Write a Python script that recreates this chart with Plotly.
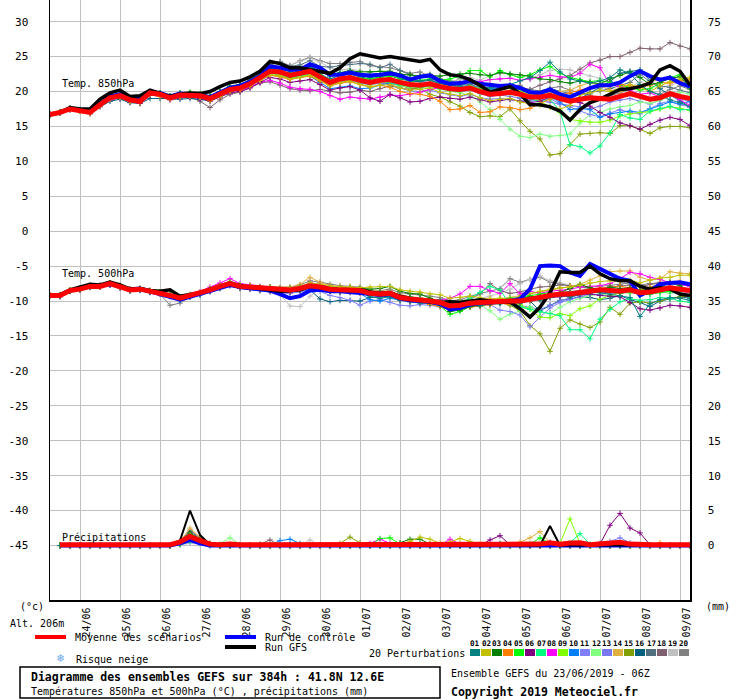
import plotly.graph_objects as go

MONO = 'DejaVu Sans Mono'

# time axis: 6-hourly steps over 384h (23/06 06Z -> 09/07 06Z)
hours = list(range(0, 385, 6))
rain_hours = hours[1:]
day_lines = [18, 42, 66, 90, 114, 138, 162, 186, 210, 234, 258, 282, 306, 330, 354, 378]
day_labels = ['24/06', '25/06', '26/06', '27/06', '28/06', '29/06', '30/06', '01/07',
              '02/07', '03/07', '04/07', '05/07', '06/07', '07/07', '08/07', '09/07']
left_ticks = [-45, -40, -35, -30, -25, -20, -15, -10, -5, 0, 5, 10, 15, 20, 25, 30]
right_ticks = [0, 5, 10, 15, 20, 25, 30, 35, 40, 45, 50, 55, 60, 65, 70, 75]
thick_ticks = [-40, -30, -20, -10, 10, 20, 30]
y_range = [-52.8, 33.1]
rain_offset = 45

member_colors = ['#008080', '#c0c000', '#008000', '#ff8000', '#00ff00', '#800080', '#00ff80',
                 '#ff00ff', '#80ff00', '#0080ff', '#8080ff', '#80ff80', '#7878f0', '#e0b040',
                 '#80a000', '#006080', '#507080', '#806070', '#c0c0c0', '#808080']

# ---------------- ensemble mean / control / GFS ----------------
mean_t850 = [
    16.7, 17.0, 17.5, 17.3, 17.0, 18.1, 19.1, 19.4, 18.8, 18.6,
    19.8, 19.6, 19.1, 19.5, 19.5, 19.4, 19.0, 19.6, 20.3, 20.5,
    21.1, 22.0, 22.9, 22.8, 22.3, 22.6, 22.9, 22.1, 21.3, 21.8,
    22.0, 21.6, 21.3, 21.6, 21.7, 21.3, 21.0, 20.9, 21.1, 20.7,
    20.4, 20.3, 20.5, 20.0, 19.6, 19.7, 19.9, 19.6, 19.2, 19.2,
    19.5, 19.0, 18.6, 18.9, 19.1, 19.0, 18.9, 19.3, 19.7, 19.3,
    18.9, 19.1, 19.7, 19.3, 19.0]
ctrl_t850 = [
    16.7, 17.0, 17.6, 17.4, 17.1, 18.2, 19.3, 19.6, 19.0, 18.9,
    19.9, 19.8, 19.3, 19.7, 19.6, 19.5, 19.2, 19.8, 20.5, 20.8,
    21.4, 22.2, 23.6, 23.4, 23.1, 23.1, 23.9, 23.4, 22.4, 22.4,
    22.7, 22.4, 22.3, 22.4, 22.6, 22.3, 21.7, 22.1, 22.3, 21.5,
    21.1, 21.2, 21.5, 21.1, 21.0, 20.8, 20.9, 20.5, 19.9, 19.8,
    20.3, 19.6, 19.2, 19.9, 20.5, 20.9, 20.9, 21.3, 22.2, 22.9,
    22.2, 21.7, 22.0, 21.2, 20.7]
gfs_t850 = [
    16.7, 17.0, 17.7, 17.5, 17.5, 18.9, 19.8, 20.2, 19.3, 19.4,
    20.2, 19.8, 19.3, 19.6, 19.8, 19.7, 20.0, 20.7, 21.3, 21.5,
    22.1, 22.9, 24.3, 24.0, 23.4, 23.4, 23.1, 22.8, 22.6, 23.4,
    24.7, 25.4, 25.1, 24.8, 25.0, 24.8, 24.6, 24.3, 24.6, 23.1,
    22.4, 22.2, 21.7, 20.9, 19.9, 20.3, 20.7, 19.7, 18.1, 18.1,
    17.8, 17.2, 15.9, 17.4, 18.4, 18.9, 19.6, 20.3, 20.4, 20.7,
    21.2, 23.1, 23.7, 22.9, 20.9]

mean_t500 = [
    -9.2, -9.2, -8.5, -8.3, -7.9, -7.9, -7.5, -7.9, -8.4, -8.3,
    -8.6, -8.8, -9.2, -9.6, -9.2, -8.9, -8.4, -7.9, -7.5, -7.9,
    -8.0, -8.2, -8.2, -8.4, -8.4, -8.2, -7.8, -8.0, -8.3, -8.4,
    -8.4, -8.5, -8.9, -9.0, -8.9, -9.5, -9.7, -9.8, -10.0, -10.2,
    -10.7, -10.6, -10.3, -10.2, -10.1, -10.0, -10.0, -10.0, -9.8, -9.5,
    -9.2, -9.0, -9.0, -8.8, -8.5, -8.4, -8.5, -8.6, -8.4, -8.8,
    -8.7, -8.4, -8.1, -8.3, -8.5]
ctrl_t500 = [
    -9.2, -9.1, -8.5, -8.2, -7.9, -7.8, -7.6, -7.9, -8.3, -8.2,
    -8.6, -8.9, -9.4, -9.8, -9.4, -9.0, -8.6, -8.1, -7.7, -8.0,
    -8.2, -8.3, -8.5, -9.0, -9.6, -9.3, -8.5, -8.4, -8.6, -8.6,
    -8.7, -8.8, -9.0, -9.1, -9.0, -9.6, -9.9, -10.0, -10.1, -10.4,
    -11.2, -11.0, -10.5, -10.3, -10.2, -10.0, -10.0, -9.7, -8.3, -5.0,
    -4.9, -5.0, -5.9, -6.4, -4.7, -5.4, -6.1, -6.8, -7.1, -9.2,
    -8.5, -7.6, -7.4, -7.3, -7.6]
gfs_t500 = [
    -9.2, -9.1, -8.4, -8.0, -7.6, -7.7, -7.3, -7.7, -8.3, -8.2,
    -8.5, -8.6, -8.4, -9.3, -9.0, -8.8, -8.3, -7.8, -7.4, -7.8,
    -8.0, -8.1, -8.3, -8.6, -8.5, -8.4, -7.9, -8.1, -8.3, -8.4,
    -8.5, -8.4, -8.7, -8.9, -8.8, -9.3, -9.6, -9.9, -10.1, -10.2,
    -10.1, -10.2, -10.0, -9.8, -10.0, -10.2, -10.1, -11.1, -12.3, -10.9,
    -8.8, -5.8, -5.9, -5.9, -5.0, -6.1, -6.8, -7.1, -7.1, -7.9,
    -8.3, -8.1, -8.3, -9.0, -9.2]

mean_rr = [
    0.1, 0.1, 0.1, 0.1, 0.1, 0.1, 0.1, 0.1,
    0.1, 0.1, 0.1, 0.1, 0.5, 1.3, 0.7, 0.2,
    0.1, 0.2, 0.1, 0.1, 0.1, 0.1, 0.1, 0.1,
    0.1, 0.1, 0.1, 0.1, 0.1, 0.2, 0.1, 0.1,
    0.2, 0.2, 0.1, 0.1, 0.2, 0.1, 0.1, 0.2,
    0.1, 0.1, 0.1, 0.1, 0.2, 0.1, 0.1, 0.1,
    0.2, 0.4, 0.2, 0.35, 0.4, 0.1, 0.2, 0.4,
    0.45, 0.2, 0.1, 0.1, 0.1, 0.1, 0.1, 0.1]
ctrl_rr = [
    0, 0, 0, 0, 0, 0, 0, 0,
    0, 0, 0, 0, 0.3, 0.8, 0.3, 0,
    0, 0, 0, 0, 0, 0, 0, 0,
    0, 0, 0, 0, 0, 0, 0, 0,
    0, 0, 0, 0, 0, 0, 0, 0,
    0, 0, 0, 0, 0, 0, 0, 0,
    0, 0, 0, 0, 0, 0, 0, 0,
    0, 0, 0, 0, 0, 0, 0, 0]
gfs_rr = [
    0, 0, 0, 0, 0, 0, 0, 0,
    0, 0, 0, 0, 0.7, 5.0, 1.5, 0.1,
    0, 0, 0, 0, 0, 0, 0, 0,
    0, 0, 0, 0, 0, 0, 0, 0,
    0, 0, 0, 0, 0, 0, 0, 0,
    0, 0, 0, 0, 0, 0, 0, 0,
    0, 2.8, 0, 0, 0, 0, 0, 0,
    0, 0, 0, 0, 0, 0, 0, 0]

# ---------------- 20 perturbations: T850 ----------------
p01_t850 = [
    16.7, 17.0, 17.6, 17.4, 17.1, 18.3, 19.3, 19.6, 18.9, 18.8,
    19.9, 19.8, 19.3, 19.8, 19.7, 19.6, 19.3, 20.0, 20.8, 21.0,
    21.6, 22.5, 23.3, 23.2, 22.9, 23.2, 23.6, 22.9, 22.2, 22.6,
    22.9, 22.4, 22.0, 22.3, 22.6, 22.1, 21.8, 21.5, 21.7, 21.2,
    20.9, 20.8, 21.3, 20.8, 20.5, 20.7, 21.0, 21.5, 22.0, 23.0,
    24.2, 22.8, 21.8, 21.5, 21.2, 21.5, 22.0, 23.1, 22.6, 21.0,
    20.0, 19.5, 18.8, 18.4, 17.8]
p02_t850 = [
    16.7, 17.0, 17.5, 17.2, 16.9, 18.0, 19.0, 19.2, 18.6, 18.5,
    19.6, 19.4, 19.0, 19.3, 19.4, 19.2, 18.7, 19.3, 20.0, 20.3,
    20.8, 21.6, 22.4, 22.2, 21.8, 22.0, 22.3, 21.7, 20.9, 21.3,
    21.5, 21.0, 20.6, 20.9, 21.0, 20.5, 20.2, 20.3, 20.5, 19.9,
    19.6, 19.4, 19.7, 19.1, 18.7, 18.9, 19.0, 18.5, 18.2, 18.0,
    17.8, 17.5, 18.0, 19.5, 19.8, 20.2, 20.0, 20.5, 21.0, 20.6,
    20.0, 20.8, 21.4, 21.8, 22.0]
p03_t850 = [
    16.7, 17.1, 17.6, 17.4, 17.1, 18.2, 19.2, 19.5, 19.0, 18.8,
    19.9, 19.8, 19.4, 19.7, 19.8, 19.6, 19.3, 20.0, 20.7, 21.0,
    21.5, 22.4, 23.2, 23.0, 22.6, 23.0, 23.4, 22.8, 22.3, 22.7,
    23.0, 22.8, 22.8, 22.9, 22.9, 22.5, 22.4, 22.2, 22.3, 22.2,
    22.4, 22.5, 22.6, 22.4, 22.3, 22.7, 22.5, 22.4, 22.2, 21.8,
    21.7, 21.4, 21.2, 21.5, 21.3, 21.1, 21.8, 22.3, 22.8, 22.0,
    21.0, 21.3, 21.9, 22.1, 20.5]
p04_t850 = [
    16.7, 16.9, 17.4, 17.2, 16.9, 17.9, 18.9, 19.2, 18.6, 18.4,
    19.6, 19.3, 18.9, 19.2, 19.3, 19.2, 18.8, 19.4, 20.1, 20.2,
    20.8, 21.6, 22.3, 22.1, 21.7, 22.0, 22.2, 21.5, 20.8, 21.2,
    21.4, 21.0, 20.7, 20.9, 20.6, 20.0, 19.7, 19.6, 19.3, 18.6,
    17.4, 17.5, 18.0, 17.0, 17.1, 17.8, 17.7, 17.4, 17.6, 18.3,
    18.9, 19.5, 19.8, 20.2, 20.6, 21.0, 20.9, 21.0, 20.8, 20.6,
    20.9, 21.3, 21.2, 21.5, 21.7]
p05_t850 = [
    16.7, 17.0, 17.5, 17.3, 17.0, 18.1, 19.0, 19.4, 18.9, 18.7,
    19.9, 19.7, 19.2, 19.8, 19.9, 19.7, 19.4, 19.9, 20.6, 20.8,
    21.3, 22.2, 23.0, 22.9, 22.5, 22.8, 23.0, 22.4, 21.6, 22.0,
    22.2, 21.9, 21.8, 22.0, 22.2, 21.9, 21.5, 21.6, 21.8, 21.6,
    21.8, 22.2, 23.0, 23.0, 22.1, 23.0, 22.4, 22.0, 22.4, 23.1,
    23.6, 22.6, 22.0, 21.7, 21.4, 21.6, 21.3, 21.0, 20.6, 20.2,
    20.4, 21.2, 22.0, 22.4, 20.6]
p06_t850 = [
    16.7, 16.9, 17.4, 17.2, 16.8, 17.9, 18.8, 19.1, 18.5, 18.3,
    19.5, 19.3, 18.8, 19.1, 19.2, 19.0, 18.6, 19.2, 19.8, 20.0,
    20.5, 21.3, 22.0, 21.8, 21.3, 21.5, 21.7, 21.0, 20.2, 20.5,
    20.7, 20.2, 19.1, 18.6, 19.6, 19.1, 18.5, 18.6, 19.0, 19.2,
    19.0, 18.9, 19.2, 18.8, 18.5, 18.7, 18.9, 18.6, 18.4, 18.6,
    19.2, 19.0, 18.7, 18.4, 17.9, 17.0, 16.3, 15.5, 15.1, 14.6,
    15.3, 15.9, 16.3, 16.0, 15.1]
p07_t850 = [
    16.7, 17.0, 17.5, 17.3, 17.0, 18.1, 19.1, 19.3, 18.8, 18.5,
    19.7, 19.6, 19.1, 19.4, 19.4, 19.3, 19.1, 19.7, 20.4, 20.6,
    21.1, 21.9, 22.7, 22.6, 22.0, 22.3, 22.6, 21.8, 21.0, 21.6,
    21.8, 21.4, 21.1, 21.4, 21.3, 20.9, 20.7, 20.6, 20.8, 20.4,
    20.2, 20.0, 20.3, 19.8, 19.5, 19.8, 19.8, 19.5, 19.0, 18.5,
    18.9, 17.2, 12.4, 12.1, 11.2, 12.2, 14.1, 16.7, 16.2, 16.0,
    17.2, 17.6, 17.9, 17.4, 17.4]
p08_t850 = [
    16.7, 17.0, 17.5, 17.3, 17.0, 18.0, 19.0, 19.3, 18.7, 18.5,
    19.7, 19.5, 19.0, 19.3, 19.3, 19.1, 18.9, 19.4, 20.0, 20.2,
    20.6, 21.3, 21.6, 21.2, 20.6, 20.4, 20.3, 20.0, 19.4, 18.9,
    19.2, 19.0, 18.9, 19.2, 19.5, 19.4, 19.6, 19.9, 20.3, 20.5,
    20.8, 21.1, 21.6, 21.4, 21.7, 21.8, 21.9, 21.6, 21.8, 22.0,
    22.3, 22.1, 22.0, 22.6, 23.9, 23.4, 21.0, 20.7, 20.2, 19.6,
    19.8, 19.2, 19.6, 18.8, 18.0]
p09_t850 = [
    16.7, 17.0, 17.6, 17.3, 17.0, 18.2, 19.2, 19.5, 18.9, 18.7,
    19.8, 19.7, 19.2, 19.6, 19.6, 19.5, 19.2, 19.8, 20.4, 20.6,
    21.2, 22.0, 22.6, 22.4, 21.9, 22.2, 22.4, 21.7, 21.0, 21.5,
    21.7, 21.3, 21.1, 21.5, 21.6, 21.2, 20.9, 20.8, 21.1, 20.8,
    20.6, 20.5, 20.8, 20.4, 20.1, 20.3, 20.5, 20.1, 19.5, 18.6,
    17.8, 17.0, 16.0, 15.8, 15.6, 15.6, 15.9, 16.5, 16.8, 17.0,
    17.1, 17.5, 17.8, 17.6, 17.3]
p10_t850 = [
    16.7, 17.0, 17.5, 17.3, 17.0, 18.0, 19.0, 19.3, 18.7, 18.6,
    19.8, 19.6, 19.1, 19.5, 19.6, 19.5, 19.1, 19.7, 20.4, 20.7,
    21.3, 22.2, 22.9, 22.6, 22.0, 22.1, 22.2, 21.3, 20.4, 20.6,
    20.8, 20.4, 20.5, 20.9, 21.2, 21.0, 20.8, 20.8, 21.2, 20.8,
    20.6, 20.6, 20.9, 20.5, 20.3, 20.6, 20.8, 20.2, 19.7, 19.4,
    19.2, 18.5, 17.4, 17.6, 17.4, 16.3, 16.8, 17.0, 17.2, 17.0,
    17.5, 18.0, 18.5, 18.2, 18.6]
p11_t850 = [
    16.7, 17.0, 17.4, 17.2, 16.9, 18.0, 18.9, 19.2, 18.7, 18.5,
    19.6, 19.5, 19.0, 19.3, 19.3, 19.2, 18.9, 19.4, 20.0, 20.2,
    20.7, 21.5, 22.3, 22.3, 21.9, 22.2, 22.5, 21.8, 21.0, 21.4,
    21.6, 21.2, 21.0, 21.2, 21.0, 20.5, 20.1, 20.0, 20.2, 19.8,
    19.5, 19.3, 19.6, 19.1, 18.9, 19.0, 18.8, 18.7, 18.6, 18.8,
    19.0, 18.2, 17.8, 17.2, 16.7, 16.4, 16.9, 17.4, 17.0, 16.8,
    17.5, 18.3, 18.6, 18.1, 17.8]
p12_t850 = [
    16.7, 17.0, 17.5, 17.3, 17.0, 18.1, 19.1, 19.4, 18.8, 18.6,
    19.8, 19.5, 19.0, 19.4, 19.5, 19.3, 18.9, 19.5, 20.2, 20.4,
    21.0, 21.8, 22.5, 22.4, 21.8, 22.1, 22.3, 21.6, 20.8, 21.2,
    21.4, 21.1, 20.9, 21.2, 21.3, 20.8, 20.6, 20.5, 20.7, 20.3,
    20.0, 19.8, 19.5, 18.5, 17.4, 16.0, 14.6, 13.6, 13.4, 13.9,
    13.6, 13.7, 13.9, 15.5, 16.7, 17.0, 17.5, 17.8, 18.0, 18.5,
    18.3, 18.7, 19.4, 19.9, 19.6]
p13_t850 = [
    16.7, 17.0, 17.5, 17.3, 17.0, 18.1, 19.0, 19.3, 18.8, 18.6,
    19.7, 19.6, 19.1, 19.5, 19.4, 19.3, 19.0, 19.5, 20.2, 20.4,
    20.9, 21.8, 22.6, 22.5, 22.1, 22.4, 22.7, 21.9, 21.1, 21.6,
    21.8, 21.4, 21.1, 21.3, 21.4, 21.0, 20.7, 20.6, 20.8, 20.4,
    20.1, 20.0, 20.2, 19.7, 19.3, 19.5, 19.3, 19.0, 18.8, 18.6,
    18.5, 18.2, 18.0, 17.8, 17.5, 17.9, 18.5, 18.8, 19.0, 18.6,
    18.2, 18.8, 19.4, 19.0, 18.5]
p14_t850 = [
    16.7, 17.0, 17.5, 17.3, 17.0, 18.1, 19.1, 19.4, 18.8, 18.7,
    19.8, 19.6, 19.2, 19.6, 19.6, 19.5, 19.1, 19.7, 20.3, 20.6,
    21.2, 22.1, 22.9, 22.8, 22.3, 22.6, 22.9, 22.2, 21.4, 21.9,
    22.1, 21.7, 21.4, 21.7, 21.9, 21.5, 21.2, 21.1, 21.3, 21.0,
    20.7, 20.6, 20.8, 20.4, 20.0, 20.2, 20.5, 20.2, 19.8, 19.9,
    20.1, 20.0, 20.2, 20.8, 21.3, 20.8, 20.2, 20.0, 20.5, 21.0,
    21.4, 21.7, 21.9, 21.6, 21.9]
p15_t850 = [
    16.7, 17.0, 17.5, 17.3, 17.0, 18.1, 19.0, 19.3, 18.7, 18.5,
    19.7, 19.5, 19.0, 19.4, 19.4, 19.3, 18.9, 19.5, 20.2, 20.4,
    21.0, 21.9, 22.7, 22.6, 22.1, 22.4, 22.7, 21.9, 21.1, 21.6,
    21.8, 21.4, 21.1, 21.3, 21.2, 20.8, 20.5, 20.4, 19.6, 19.2,
    18.5, 17.9, 17.0, 16.4, 16.5, 16.4, 17.5, 15.8, 14.3, 13.2,
    10.9, 11.1, 12.4, 13.9, 14.0, 14.1, 14.0, 15.1, 15.1, 14.6,
    14.0, 14.8, 15.0, 15.0, 14.8]
p16_t850 = [
    16.7, 16.9, 17.4, 17.2, 16.9, 17.8, 18.6, 18.9, 18.4, 18.3,
    19.0, 19.0, 18.9, 18.9, 19.0, 18.9, 18.7, 19.3, 20.0, 20.3,
    20.9, 21.7, 22.6, 22.7, 22.4, 22.8, 23.2, 22.5, 21.8, 22.3,
    22.5, 22.1, 21.8, 22.1, 22.3, 21.8, 21.5, 21.4, 21.6, 21.1,
    20.8, 20.6, 20.9, 20.4, 20.1, 20.5, 20.8, 20.0, 19.4, 19.6,
    20.0, 19.4, 18.8, 19.0, 19.8, 20.5, 21.4, 22.6, 22.9, 23.1,
    21.6, 20.4, 19.5, 18.6, 17.8]
p17_t850 = [
    16.7, 17.0, 17.6, 17.4, 17.1, 18.2, 19.2, 19.5, 18.9, 18.7,
    19.8, 19.7, 19.3, 19.6, 19.7, 19.6, 19.2, 19.9, 20.7, 21.0,
    21.7, 22.6, 23.8, 24.2, 23.6, 23.8, 24.4, 23.6, 23.5, 23.7,
    23.9, 24.0, 23.9, 23.4, 23.9, 23.0, 22.4, 22.2, 22.4, 21.8,
    21.5, 21.2, 21.3, 20.8, 20.3, 20.5, 20.7, 20.4, 20.2, 20.1,
    20.4, 20.0, 19.7, 19.6, 19.8, 20.1, 20.4, 20.9, 21.3, 22.5,
    21.4, 20.8, 20.6, 20.2, 19.8]
p18_t850 = [
    16.7, 17.0, 17.5, 17.3, 17.0, 18.0, 19.0, 19.2, 18.6, 18.4,
    19.5, 19.4, 18.9, 19.2, 19.2, 18.6, 17.7, 18.8, 19.6, 19.9,
    20.6, 21.2, 21.4, 20.9, 20.4, 20.2, 20.1, 20.3, 20.0, 19.8,
    19.9, 20.2, 20.0, 20.4, 20.8, 20.5, 20.3, 20.6, 21.0, 20.8,
    20.5, 20.9, 21.0, 20.6, 20.2, 20.5, 20.8, 20.6, 20.3, 20.9,
    21.4, 21.8, 22.3, 23.2, 24.1, 24.5, 25.0, 25.0, 25.6, 26.2,
    26.1, 26.1, 27.0, 26.5, 26.1]
p19_t850 = [
    16.7, 17.0, 17.5, 17.3, 17.0, 18.1, 19.1, 19.4, 18.9, 18.7,
    19.9, 19.7, 19.3, 19.7, 19.8, 19.6, 19.3, 19.9, 20.6, 20.9,
    21.4, 22.4, 23.3, 23.6, 23.8, 24.3, 24.8, 24.2, 23.4, 23.1,
    23.2, 23.0, 22.7, 22.9, 22.6, 22.2, 22.0, 22.3, 22.6, 21.8,
    21.4, 21.7, 22.0, 21.6, 22.3, 22.6, 22.5, 22.0, 21.8, 22.4,
    23.0, 23.2, 23.1, 22.6, 22.2, 21.9, 20.5, 20.2, 20.6, 21.4,
    20.8, 20.5, 20.9, 21.3, 21.2]
p20_t850 = [
    16.7, 17.0, 17.5, 17.3, 17.0, 18.1, 19.1, 19.5, 18.9, 18.7,
    19.9, 19.8, 19.3, 19.7, 19.7, 19.6, 19.2, 19.8, 20.6, 20.9,
    21.6, 22.8, 24.0, 24.3, 23.7, 24.4, 24.9, 24.4, 24.0, 24.0,
    24.2, 24.3, 23.7, 23.5, 23.4, 23.0, 22.6, 22.8, 22.2, 21.6,
    21.3, 21.8, 21.6, 21.2, 21.0, 20.6, 20.5, 20.9, 20.0, 19.6,
    20.5, 20.7, 20.2, 19.8, 19.5, 19.0, 19.4, 19.8, 20.4, 20.8,
    20.0, 19.6, 20.3, 20.8, 20.3]

# ---------------- 20 perturbations: T500 ----------------
p01_t500 = [
    -9.2, -9.3, -8.6, -8.3, -8.0, -7.9, -7.6, -8.0, -8.5, -8.4,
    -8.7, -8.9, -9.3, -9.8, -9.3, -9.0, -8.5, -8.0, -7.6, -8.0,
    -8.1, -8.3, -8.4, -8.6, -8.5, -8.4, -8.0, -8.3, -8.6, -8.7,
    -8.6, -8.7, -9.4, -9.6, -9.4, -9.9, -10.1, -10.3, -10.3, -10.6,
    -11.0, -10.9, -10.6, -10.7, -10.4, -10.4, -10.1, -10.3, -9.6, -9.9,
    -9.5, -9.2, -9.4, -9.0, -8.7, -8.8, -9.0, -9.3, -9.5, -12.2,
    -10.4, -9.8, -9.5, -9.6, -9.9]
p02_t500 = [
    -9.2, -9.1, -8.4, -8.2, -7.8, -7.8, -7.4, -7.8, -8.3, -8.2,
    -8.5, -8.7, -9.0, -9.5, -9.1, -8.8, -8.2, -7.7, -7.3, -7.7,
    -7.8, -8.0, -8.0, -8.1, -8.1, -7.9, -7.4, -7.6, -7.9, -8.0,
    -8.0, -8.1, -8.0, -7.9, -7.9, -8.4, -8.6, -8.7, -9.0, -9.1,
    -9.6, -9.5, -9.3, -9.5, -9.8, -9.6, -9.9, -9.4, -8.9, -8.6,
    -8.3, -8.1, -8.0, -7.7, -7.4, -7.2, -7.1, -7.2, -7.0, -7.4,
    -7.0, -6.7, -6.6, -6.3, -6.3]
p03_t500 = [
    -9.2, -9.1, -8.4, -8.3, -7.8, -7.8, -7.4, -7.8, -8.3, -8.3,
    -8.5, -8.7, -9.1, -9.5, -9.2, -8.9, -8.3, -7.8, -7.3, -7.8,
    -7.9, -8.0, -8.0, -8.2, -8.2, -8.0, -7.6, -7.8, -8.0, -8.1,
    -8.1, -8.2, -8.3, -8.2, -7.9, -8.6, -8.9, -9.0, -9.6, -10.0,
    -11.5, -11.3, -10.8, -10.6, -10.3, -10.1, -9.9, -9.6, -9.4, -9.3,
    -9.0, -8.8, -8.2, -7.6, -8.1, -8.4, -8.0, -8.2, -8.1, -8.5,
    -8.3, -8.0, -7.4, -7.8, -8.6]
p04_t500 = [
    -9.2, -9.2, -8.5, -8.4, -8.0, -8.0, -7.6, -8.0, -8.5, -8.3,
    -8.6, -8.8, -9.2, -9.6, -9.3, -9.0, -8.5, -8.1, -7.7, -8.1,
    -8.2, -8.4, -8.6, -8.7, -8.6, -8.4, -8.0, -8.2, -8.6, -8.7,
    -8.7, -8.9, -9.1, -9.2, -9.2, -9.8, -10.1, -10.2, -10.5, -10.8,
    -11.3, -11.1, -10.9, -10.8, -10.6, -10.3, -10.5, -10.2, -9.9, -9.7,
    -9.4, -9.1, -8.9, -8.6, -8.3, -8.2, -8.0, -7.9, -8.1, -8.4,
    -8.0, -7.6, -7.5, -7.2, -7.6]
p05_t500 = [
    -9.2, -9.2, -8.5, -8.3, -7.9, -7.8, -7.5, -7.8, -8.4, -8.2,
    -8.6, -8.8, -9.2, -9.7, -9.2, -8.9, -8.4, -7.9, -7.4, -7.8,
    -8.0, -8.2, -8.3, -8.4, -8.4, -8.1, -7.7, -7.9, -8.2, -8.3,
    -8.3, -8.4, -8.8, -9.0, -8.9, -9.6, -9.9, -10.0, -10.3, -10.7,
    -11.9, -11.5, -10.8, -10.5, -10.1, -9.8, -9.6, -9.5, -9.2, -9.0,
    -8.8, -9.0, -9.2, -8.9, -8.6, -8.5, -8.7, -8.9, -8.6, -8.9,
    -9.0, -8.8, -8.6, -8.9, -9.2]
p06_t500 = [
    -9.2, -9.4, -8.6, -8.4, -8.0, -8.0, -7.7, -8.1, -8.5, -8.4,
    -8.7, -8.9, -9.3, -9.7, -9.3, -9.0, -8.6, -8.1, -7.7, -8.1,
    -8.2, -8.4, -8.5, -8.7, -8.7, -8.5, -8.1, -8.3, -8.6, -8.7,
    -8.7, -8.8, -9.2, -9.3, -9.2, -9.8, -10.0, -10.1, -10.3, -10.5,
    -10.9, -10.8, -10.6, -10.5, -10.3, -10.2, -10.1, -10.2, -9.9, -9.7,
    -9.5, -9.4, -9.3, -9.1, -9.0, -9.2, -9.3, -9.4, -10.2, -11.1,
    -11.3, -11.0, -10.6, -10.7, -10.9]
p07_t500 = [
    -9.2, -9.2, -8.5, -8.3, -7.9, -7.9, -7.5, -7.9, -8.4, -8.3,
    -8.6, -8.8, -9.1, -9.5, -9.1, -8.8, -8.3, -7.8, -7.3, -7.7,
    -7.9, -8.1, -8.1, -8.3, -8.2, -8.0, -7.6, -7.8, -8.1, -8.2,
    -8.2, -8.3, -8.7, -8.9, -8.7, -9.3, -9.4, -9.6, -9.7, -10.0,
    -10.4, -10.2, -9.6, -8.8, -7.9, -8.4, -10.5, -10.8, -11.2, -11.5,
    -11.8, -12.1, -14.1, -14.1, -15.4, -12.6, -11.2, -10.1, -9.7, -9.9,
    -9.8, -9.5, -9.6, -10.0, -10.2]
p08_t500 = [
    -9.2, -9.1, -8.4, -8.2, -7.8, -7.7, -7.4, -7.8, -8.3, -8.2,
    -8.5, -8.7, -9.1, -9.5, -9.1, -8.7, -8.0, -7.4, -6.8, -7.5,
    -7.7, -7.9, -8.0, -8.1, -8.1, -7.9, -7.4, -7.6, -8.0, -8.1,
    -8.2, -8.3, -8.6, -8.7, -8.6, -9.2, -9.5, -9.6, -9.8, -9.9,
    -9.6, -9.0, -7.9, -7.9, -8.5, -8.9, -7.5, -9.0, -8.6, -8.9,
    -8.6, -8.5, -8.3, -8.0, -7.9, -7.8, -7.5, -6.8, -5.9, -6.1,
    -6.6, -6.9, -7.4, -7.6, -7.9]
p09_t500 = [
    -9.2, -9.2, -8.5, -8.3, -7.9, -7.9, -7.5, -7.9, -8.4, -8.3,
    -8.6, -8.8, -9.2, -9.6, -9.2, -8.9, -8.4, -7.9, -7.5, -7.9,
    -8.0, -8.2, -8.2, -8.4, -8.4, -8.2, -7.8, -8.0, -8.3, -8.4,
    -8.4, -8.5, -8.9, -9.0, -8.9, -9.5, -9.7, -9.8, -10.0, -10.3,
    -10.8, -10.6, -10.2, -10.0, -9.9, -9.6, -9.8, -10.5, -11.2, -12.3,
    -12.4, -11.8, -12.1, -11.1, -10.7, -9.7, -9.2, -8.8, -8.7, -8.9,
    -8.5, -8.3, -8.0, -8.2, -8.3]
p10_t500 = [
    -9.2, -9.2, -8.5, -8.4, -8.0, -8.0, -7.6, -8.0, -8.5, -8.4,
    -8.7, -8.9, -9.3, -9.9, -9.4, -9.1, -8.6, -8.1, -7.7, -8.1,
    -8.2, -8.4, -8.6, -8.8, -8.7, -8.5, -8.1, -8.3, -8.6, -8.7,
    -8.8, -8.9, -9.8, -10.0, -9.6, -9.9, -10.1, -10.2, -10.4, -10.6,
    -11.0, -10.8, -10.6, -10.4, -10.3, -10.1, -10.2, -10.0, -9.7, -9.4,
    -9.2, -9.1, -9.2, -9.0, -8.8, -8.7, -8.8, -8.9, -8.7, -9.1,
    -9.0, -8.7, -8.6, -8.9, -9.1]
p11_t500 = [
    -9.2, -9.3, -8.6, -8.4, -8.1, -8.0, -7.7, -8.1, -8.6, -8.5,
    -8.8, -9.0, -9.4, -9.9, -9.4, -9.1, -8.7, -8.2, -7.8, -8.2,
    -8.3, -8.5, -8.7, -8.9, -8.9, -8.7, -8.4, -8.6, -9.2, -9.5,
    -9.9, -10.6, -10.0, -9.8, -10.2, -10.6, -10.7, -10.5, -10.6, -10.8,
    -11.1, -11.0, -10.8, -10.6, -10.5, -11.3, -11.5, -12.0, -13.7, -12.3,
    -11.0, -10.2, -9.8, -9.3, -9.0, -9.1, -8.7, -8.9, -8.5, -9.0,
    -8.6, -8.4, -8.2, -8.6, -8.8]
p12_t500 = [
    -9.2, -9.2, -8.5, -8.3, -7.9, -7.9, -7.5, -7.9, -8.4, -8.3,
    -8.6, -8.8, -9.2, -9.6, -9.2, -8.9, -8.4, -7.9, -7.5, -7.9,
    -8.0, -8.2, -8.3, -8.5, -8.5, -8.3, -7.9, -8.1, -8.4, -8.5,
    -8.5, -8.6, -9.0, -9.1, -9.0, -9.6, -9.8, -9.9, -10.1, -10.3,
    -10.8, -10.6, -10.2, -10.5, -11.4, -12.6, -11.9, -11.4, -10.8, -11.6,
    -11.8, -10.9, -10.1, -9.6, -9.2, -8.9, -9.3, -8.7, -8.9, -8.4,
    -8.2, -8.6, -8.9, -8.4, -8.6]
p13_t500 = [
    -9.2, -9.2, -8.5, -8.3, -8.0, -7.9, -7.5, -7.9, -8.4, -8.3,
    -8.6, -8.8, -9.2, -9.7, -9.3, -9.0, -8.5, -8.0, -7.6, -8.0,
    -8.1, -8.3, -8.4, -8.6, -8.6, -8.4, -8.0, -8.2, -8.5, -8.6,
    -8.6, -8.7, -9.1, -9.2, -9.1, -9.7, -9.9, -10.0, -10.2, -10.4,
    -10.9, -10.8, -10.5, -10.4, -10.3, -10.2, -10.4, -10.6, -10.9, -11.2,
    -10.6, -10.0, -9.5, -9.1, -8.8, -8.6, -8.2, -8.4, -8.1, -8.5,
    -8.3, -8.1, -8.0, -8.3, -8.5]
p14_t500 = [
    -9.2, -9.1, -8.4, -8.2, -7.8, -7.8, -7.4, -7.8, -8.3, -8.2,
    -8.5, -8.7, -9.1, -9.5, -9.1, -8.8, -8.3, -7.8, -7.4, -7.8,
    -7.8, -8.0, -8.0, -8.1, -8.0, -7.6, -6.6, -7.3, -7.8, -7.9,
    -8.0, -8.1, -8.5, -8.6, -8.5, -9.1, -9.4, -9.5, -9.8, -10.0,
    -10.4, -10.3, -10.0, -9.8, -9.6, -9.7, -9.5, -9.3, -9.0, -8.7,
    -8.5, -8.2, -7.9, -7.6, -7.0, -6.4, -5.8, -5.7, -5.7, -6.6,
    -7.0, -6.8, -5.8, -6.0, -6.1]
p15_t500 = [
    -9.2, -9.2, -8.5, -8.3, -7.9, -7.9, -7.5, -7.9, -8.4, -8.3,
    -8.6, -8.8, -9.2, -9.6, -9.2, -8.9, -8.4, -7.9, -7.5, -7.9,
    -8.0, -8.2, -8.2, -8.4, -8.4, -8.2, -7.8, -8.0, -8.3, -8.4,
    -8.4, -8.5, -8.9, -9.0, -8.9, -9.5, -9.7, -9.8, -10.0, -10.2,
    -10.7, -10.6, -10.3, -10.2, -10.1, -10.2, -10.6, -11.4, -13.5, -14.7,
    -17.2, -13.9, -12.7, -13.3, -13.8, -13.0, -10.9, -11.9, -10.3, -10.1,
    -10.3, -10.0, -9.6, -9.4, -9.3]
p16_t500 = [
    -9.2, -9.2, -8.6, -8.4, -8.0, -8.0, -7.7, -8.1, -8.5, -8.4,
    -8.7, -8.9, -9.3, -9.8, -9.4, -9.1, -8.6, -8.2, -7.8, -8.2,
    -8.3, -8.5, -8.6, -8.8, -8.8, -8.6, -8.4, -9.7, -10.1, -9.9,
    -9.9, -10.0, -9.5, -9.4, -9.3, -9.8, -10.0, -10.1, -10.3, -10.5,
    -11.0, -10.9, -10.7, -10.6, -10.4, -10.3, -10.2, -10.3, -10.0, -11.4,
    -10.6, -9.9, -9.7, -9.4, -9.5, -9.8, -9.6, -9.2, -9.8, -10.2,
    -10.8, -10.0, -9.7, -9.4, -9.6]
p17_t500 = [
    -9.2, -9.1, -8.4, -8.2, -7.9, -7.8, -7.4, -7.8, -8.3, -8.2,
    -8.5, -8.7, -9.1, -9.6, -9.2, -8.8, -8.3, -7.8, -7.4, -7.8,
    -7.9, -8.1, -8.1, -8.3, -8.3, -8.1, -7.7, -7.9, -8.2, -8.3,
    -8.3, -8.4, -8.8, -8.9, -8.8, -9.4, -9.6, -9.7, -9.9, -10.1,
    -10.6, -10.5, -10.2, -10.1, -10.0, -9.9, -9.9, -9.8, -9.5, -9.2,
    -9.0, -8.8, -8.7, -8.5, -8.3, -8.2, -8.3, -8.4, -8.3, -8.6,
    -8.5, -8.2, -8.0, -8.2, -8.4]
p18_t500 = [
    -9.2, -9.2, -8.5, -8.3, -7.9, -7.9, -7.6, -8.0, -8.4, -8.3,
    -8.6, -8.8, -9.2, -9.7, -9.3, -9.0, -8.5, -8.0, -7.6, -8.0,
    -8.1, -8.3, -8.3, -8.5, -8.5, -8.3, -7.9, -8.1, -8.4, -8.5,
    -8.5, -8.6, -9.0, -9.1, -9.0, -9.6, -9.8, -9.9, -10.0, -9.8,
    -9.9, -10.0, -9.7, -9.0, -7.5, -8.5, -8.9, -8.7, -8.3, -8.0,
    -7.9, -7.7, -7.8, -8.0, -8.1, -8.3, -8.0, -7.8, -7.7, -7.9,
    -7.6, -7.4, -7.3, -7.6, -7.8]
p19_t500 = [
    -9.2, -9.2, -8.5, -8.3, -7.9, -7.9, -7.5, -7.9, -8.4, -8.3,
    -8.6, -8.8, -9.2, -9.6, -9.2, -8.9, -8.4, -7.9, -7.5, -7.9,
    -8.0, -8.2, -8.6, -9.0, -10.7, -10.8, -9.3, -8.2, -8.4, -8.5,
    -8.5, -8.6, -9.0, -9.1, -9.0, -9.6, -9.8, -9.9, -10.0, -10.1,
    -10.4, -10.3, -10.0, -9.6, -9.3, -8.9, -8.3, -7.5, -6.9, -6.4,
    -7.1, -7.4, -7.8, -8.1, -8.3, -8.2, -8.4, -8.5, -8.3, -8.6,
    -8.4, -8.1, -7.8, -8.0, -8.2]
p20_t500 = [
    -9.2, -9.2, -8.5, -8.3, -7.9, -7.9, -7.5, -7.9, -8.4, -8.3,
    -8.6, -9.0, -10.6, -10.3, -9.4, -9.0, -8.5, -8.0, -7.6, -8.0,
    -8.0, -8.1, -8.0, -8.1, -8.0, -7.7, -7.1, -7.3, -7.6, -7.8,
    -7.9, -8.0, -8.4, -8.5, -8.3, -8.8, -9.0, -9.1, -9.3, -9.5,
    -10.0, -9.8, -9.3, -8.9, -8.6, -8.2, -6.8, -7.3, -6.9, -6.6,
    -7.3, -7.6, -7.8, -7.9, -8.0, -7.9, -7.8, -7.6, -7.4, -7.7,
    -7.5, -7.3, -7.2, -7.5, -7.7]

# ---------------- 20 perturbations: precipitation (mm / 6h) ----------------
p01_rr = [
    0, 0, 0, 0, 0, 0, 0, 0,
    0, 0, 0, 0, 0.3, 1.2, 0.6, 0.1,
    0, 0, 0, 0, 0, 0, 0, 0,
    0, 0, 0, 0, 0, 0, 0, 0,
    0, 0, 0, 0, 0, 0, 0, 0,
    0, 0, 0, 0, 0.3, 0, 0, 0,
    0, 0, 0, 0, 0, 0, 0, 0,
    0, 0, 0, 0, 0, 0, 0, 0]
p02_rr = [
    0, 0, 0, 0, 0, 0, 0, 0,
    0, 0, 0, 0, 0.4, 1.5, 0.7, 0.2,
    0, 0, 0, 0, 0, 0, 0, 0,
    0, 0, 0, 0, 0, 0, 0, 0,
    0, 0, 0, 0.6, 1.2, 0.9, 0.3, 0.5,
    1.0, 0.6, 0.2, 0, 0, 0, 0, 0,
    0, 0, 0, 0, 0, 0, 0, 0,
    0, 0, 0, 0, 0, 0, 0, 0]
p03_rr = [
    0, 0, 0, 0, 0, 0, 0, 0,
    0, 0, 0, 0, 0.5, 1.8, 0.9, 0.2,
    0, 0, 0, 0, 0, 0, 0, 0,
    0, 0, 0, 0, 0, 0, 0, 0,
    0, 0, 0.4, 0.9, 0.9, 0.2, 0, 0,
    0, 0, 0, 0, 0, 0, 0, 0,
    0, 0, 0, 0, 0, 0, 0, 0,
    0, 0, 0, 0, 0, 0, 0, 0]
p04_rr = [
    0, 0, 0, 0, 0, 0, 0, 0,
    0, 0, 0, 0, 0.3, 1.4, 0.8, 0.1,
    0, 0, 0, 0, 0, 0, 0, 0,
    0, 0, 0, 0, 0, 0, 0, 0,
    0, 0, 0, 0, 0, 0, 0, 0,
    0, 0, 0, 0, 0, 0, 0, 0,
    0, 0, 0, 0, 0, 0, 0, 0,
    0, 0, 0, 0, 0.4, 0, 0, 0]
p05_rr = [
    0, 0, 0, 0, 0, 0, 0, 0,
    0, 0, 0, 0, 0.2, 0.8, 0.5, 0.1,
    0, 0, 0, 0, 0, 0, 0, 0,
    0, 0, 0, 0, 0, 0, 0, 0,
    1.0, 1.1, 0.2, 0, 0, 0, 0, 0,
    0, 0, 0, 0, 0, 0, 0, 0.2,
    1.1, 0.3, 0, 0, 0, 0, 0, 0,
    0, 0, 0, 0, 0, 0, 0, 0]
p06_rr = [
    0, 0, 0, 0, 0, 0, 0, 0,
    0, 0, 0, 0, 0.4, 1.6, 0.9, 0.2,
    0, 0, 0, 0, 0, 0, 0, 0,
    0, 0, 0, 0, 0, 0, 0, 0,
    0, 0, 0, 0, 0, 0, 0, 0,
    0, 0, 0, 0.8, 1.4, 0.1, 0, 0,
    0, 0, 0, 0, 0, 0, 0.2, 2.9,
    4.6, 2.5, 1.8, 0.1, 0, 0, 0, 0]
p07_rr = [
    0, 0, 0, 0, 0, 0, 0, 0,
    0, 0, 0, 0, 0.2, 0.6, 0.4, 0,
    0, 0, 0, 0, 0, 0, 0, 0,
    0, 0, 0, 0, 0, 0, 0, 0,
    0, 0, 0, 0, 0, 0, 0, 0,
    0, 0, 0, 0, 0, 0, 0, 0,
    0, 0, 0, 0.4, 1.7, 0.2, 0, 0,
    0, 0, 0, 0, 0, 0, 0, 0]
p08_rr = [
    0, 0, 0, 0, 0, 0, 0, 0,
    0, 0, 0, 0, 0.3, 1.0, 0.6, 0.1,
    0, 0, 0, 0, 0, 0, 0, 0,
    0, 0, 0, 0, 0, 0, 0, 0.3,
    0.9, 0.3, 0, 0, 0, 0, 0, 0.9,
    0.2, 0, 0, 0, 0, 0, 0, 0,
    0, 0, 0, 0, 0, 0, 0, 0,
    0, 0, 0, 0, 0, 0, 0, 0]
p09_rr = [
    0, 0, 0, 0, 0, 0, 0, 0,
    0, 0, 0, 0, 0.3, 1.1, 0.5, 0.1,
    0, 0, 0, 0, 0, 0, 0, 0,
    0, 0, 0, 0, 0, 0, 0, 0,
    0, 0, 0, 0, 0, 0, 0, 0,
    0, 0, 0, 0, 0, 0, 0, 0,
    0, 0, 0.3, 3.8, 0.3, 0, 0, 0,
    0, 0, 0, 0, 0, 0, 0, 0]
p10_rr = [
    0, 0, 0, 0, 0, 0, 0, 0,
    0, 0, 0, 0, 0.2, 0.7, 0.4, 0.1,
    0, 0, 0, 0, 0, 0, 0.7, 0.9,
    0.3, 0, 0, 0, 0, 0, 0, 0,
    0, 0, 0, 0, 0, 0, 0, 0,
    0, 0, 0, 0, 0, 0, 0, 0,
    0, 0, 0, 0, 0, 0, 0, 0,
    0, 0, 0, 0, 0, 0, 0, 0]
p11_rr = [
    0, 0, 0, 0, 0, 0, 0, 0,
    0, 0, 0, 0, 0.1, 0.5, 0.3, 0,
    0, 0, 0, 0, 0, 0, 0, 0,
    0, 0, 0, 0, 0, 0, 0, 0,
    0, 0, 0, 0, 0, 0, 0, 0,
    0, 0, 0, 0, 0, 0, 0, 0,
    0, 0, 0, 0, 0, 0, 0.1, 0.6,
    1.1, 0.4, 0, 0, 0, 0, 0, 0]
p12_rr = [
    0, 0, 0, 0, 0, 0, 0, 0,
    0, 0, 0, 0, 0.2, 0.9, 0.5, 0.1,
    0.3, 1.1, 0.2, 0, 0, 0, 0, 0,
    0, 0, 0, 0, 0, 0, 0, 0,
    0, 0, 0, 0, 0, 0, 0, 0,
    0, 0, 0, 0, 0, 0, 0, 0,
    0, 0, 0, 0, 0, 0, 0, 0,
    0, 0, 0, 0, 0, 0, 0, 0]
p13_rr = [
    0, 0, 0, 0, 0, 0, 0, 0,
    0, 0, 0, 0, 0.3, 1.0, 0.6, 0.1,
    0, 0, 0, 0, 0, 0, 0, 0,
    0, 0, 0, 0, 0, 0, 0, 0,
    0, 0, 0, 0, 0, 0, 0, 0,
    0, 0, 0, 0, 0, 0, 0, 0,
    0, 0.5, 0, 0, 0, 0, 0, 0,
    0, 0, 0, 0, 0, 0, 0, 0]
p14_rr = [
    0, 0, 0, 0, 0, 0, 0, 0,
    0, 0, 0, 0, 0.6, 2.5, 1.2, 0.3,
    0, 0, 0, 0, 0, 0, 0, 0,
    0, 0, 0, 0, 0, 0, 0, 0,
    0, 0, 0, 0, 0, 0, 0, 0,
    0, 0, 0, 0, 0, 0, 0.5, 1.1,
    2.0, 0.4, 0, 0, 0, 0, 0, 0,
    0, 0, 0, 0, 0, 0, 0, 0]
p15_rr = [
    0, 0, 0, 0, 0, 0, 0, 0,
    0, 0, 0, 0, 0.4, 1.3, 0.7, 0.2,
    0, 0, 0, 0, 0, 0, 0, 0,
    0, 0, 0, 0, 0.3, 1.2, 0.4, 0,
    0, 0, 0, 0, 0, 0, 0, 0,
    0, 0, 0, 0, 0, 0, 0, 0,
    0, 0, 0, 0, 0, 0, 0, 0,
    0, 0, 0, 0, 0, 0, 0, 0]
p16_rr = [
    0, 0, 0, 0, 0, 0, 0, 0,
    0, 0, 0, 0, 0.3, 1.2, 0.6, 0.1,
    0, 0, 0, 0, 0, 0, 0, 0,
    0, 0, 0, 0, 0, 0, 0, 0,
    0, 0, 0, 0, 0, 0, 0, 0,
    0, 0, 0, 0, 0, 0, 0, 0,
    0, 0, 0, 0, 0, 0, 0, 0,
    0, 0, 0, 0, 0, 0, 0, 0]
p17_rr = [
    0, 0, 0, 0, 0, 0, 0, 0,
    0, 0, 0, 0, 0.5, 2.0, 1.0, 0.2,
    0, 0, 0, 0, 0, 0, 0, 0,
    0, 0, 0, 0, 0, 0, 0, 0,
    0, 0, 0, 0, 0, 0, 0, 0,
    0, 0, 0, 0, 0.2, 0, 0, 0,
    0, 0, 0, 0, 0, 0, 0, 0,
    0, 0, 0, 0, 0, 0, 0, 0]
p18_rr = [
    0, 0, 0, 0, 0, 0, 0, 0,
    0, 0, 0, 0, 0.5, 2.2, 1.1, 0.3,
    0, 0, 0, 0, 0.2, 0.8, 0, 0,
    0, 0, 0, 0, 0, 0, 0, 0,
    0, 0, 0, 0, 0, 0, 0, 0,
    0, 0, 0, 0, 0, 0, 0, 0,
    0, 0, 0, 0, 0, 0, 0, 0,
    0, 0, 0, 0, 0, 0, 0, 0]
p19_rr = [
    0, 0, 0, 0, 0, 0, 0, 0,
    0, 0, 0, 0, 0.1, 0.3, 0.2, 0,
    0, 0, 0, 0, 0, 0, 0, 0,
    0, 0.8, 0, 0, 0, 0, 0, 0,
    0, 0, 0, 0, 0, 0, 0, 0,
    0, 0, 0, 0, 0, 0, 0, 0,
    0, 0, 0, 0, 0, 0, 0, 0,
    0, 0, 0, 0, 0, 0, 0, 0]
p20_rr = [
    0, 0, 0, 0, 0, 0, 0, 0,
    0, 0, 0, 0, 0.4, 1.7, 0.9, 0.2,
    0, 0, 0, 0, 0, 0, 0, 0,
    0, 0, 0, 0, 0, 0, 0, 0,
    0, 0, 0, 0, 0, 0, 0, 0,
    0, 0, 0, 0, 0, 0, 0, 0,
    0, 0, 0, 0, 0, 0, 0.3, 0,
    0, 0, 0, 0, 0, 0, 0, 0]

members = [
    (p01_t850, p01_t500, p01_rr), (p02_t850, p02_t500, p02_rr),
    (p03_t850, p03_t500, p03_rr), (p04_t850, p04_t500, p04_rr),
    (p05_t850, p05_t500, p05_rr), (p06_t850, p06_t500, p06_rr),
    (p07_t850, p07_t500, p07_rr), (p08_t850, p08_t500, p08_rr),
    (p09_t850, p09_t500, p09_rr), (p10_t850, p10_t500, p10_rr),
    (p11_t850, p11_t500, p11_rr), (p12_t850, p12_t500, p12_rr),
    (p13_t850, p13_t500, p13_rr), (p14_t850, p14_t500, p14_rr),
    (p15_t850, p15_t500, p15_rr), (p16_t850, p16_t500, p16_rr),
    (p17_t850, p17_t500, p17_rr), (p18_t850, p18_t500, p18_rr),
    (p19_t850, p19_t500, p19_rr), (p20_t850, p20_t500, p20_rr),
]

fig = go.Figure()


def thin_line(x, y, color, axis='y'):
    return go.Scatter(x=x, y=y, yaxis=axis, mode='lines+markers',
                      line=dict(color=color, width=1),
                      marker=dict(symbol='cross-thin', size=4, line=dict(color=color, width=1)),
                      hoverinfo='skip', showlegend=False)


def thick_line(x, y, color, width, axis='y'):
    return go.Scatter(x=x, y=y, yaxis=axis, mode='lines',
                      line=dict(color=color, width=width),
                      hoverinfo='skip', showlegend=False)


# perturbations first, drawn underneath
for i in range(len(members) - 1, -1, -1):
    t850, t500, rr = members[i]
    c = member_colors[i]
    fig.add_trace(thin_line(hours, t850, c))
    fig.add_trace(thin_line(hours, t500, c))
    fig.add_trace(thin_line(rain_hours, rr, c, 'y2'))

for y850, y500, rr, col, w in [(ctrl_t850, ctrl_t500, ctrl_rr, '#0000ff', 4),
                               (gfs_t850, gfs_t500, gfs_rr, '#000000', 3.5),
                               (mean_t850, mean_t500, mean_rr, '#ff0000', 5)]:
    fig.add_trace(thick_line(hours, y850, col, w))
    fig.add_trace(thick_line(hours, y500, col, w))
    rain_w = 2 if col == '#000000' else w
    fig.add_trace(thick_line(rain_hours, rr, col, rain_w, 'y2'))


# pixel -> paper helpers (plot area is x 50..690, y 0..600)
def px(x):
    return (x - 50) / 640.0


def py(y):
    return (600 - y) / 600.0


annotations = []


def text(x, y, s, size=10, bold=False, anchor='left', color='black'):
    annotations.append(dict(xref='paper', yref='paper', x=px(x), y=py(y), text=s,
                            showarrow=False, xanchor=anchor, yanchor='middle',
                            borderpad=0,
                            font=dict(family=MONO, size=size, color=color,
                                      weight='bold' if bold else 'normal')))


# panel labels (data coords)
for lbl, yv in [('Temp. 850hPa', 21.2), ('Temp. 500hPa', -6.1), ('Précipitations', -43.8)]:
    annotations.append(dict(xref='x', yref='y', x=6, y=yv, text=lbl, showarrow=False,
                            xanchor='left', yanchor='middle',
                            font=dict(family=MONO, size=10, color='black')))

text(19, 606, '(°c)', 10)
text(9, 623, 'Alt. 206m', 10)
text(705, 606, '(mm)', 10)
text(74, 637, 'Moyenne des scénarios', 10)
text(264, 637, 'Run de contrôle', 10)
text(264, 647, 'Run GFS', 10)
text(75, 659, 'Risque neige', 10)
text(60, 658, '❄', 12, anchor='center', color='#6aa8e8')
text(368, 653, '20 Perturbations', 10)
text(30, 677, 'Diagramme des ensembles GEFS sur 384h : 41.8N 12.6E', 11.5, bold=True)
text(30, 691, 'Températures 850hPa et 500hPa (°C) , précipitations (mm)', 10)
text(450, 673, 'Ensemble GEFS du 23/06/2019 - 06Z', 10)
text(450, 692, 'Copyright 2019 Meteociel.fr', 11.5, bold=True)

shapes = []
for x0, x1, yy, col in [(35, 66, 637, '#ff0000'), (225, 256, 637, '#0000ff'), (225, 256, 647, '#000000')]:
    shapes.append(dict(type='line', xref='paper', yref='paper', x0=px(x0), x1=px(x1),
                       y0=py(yy), y1=py(yy), line=dict(color=col, width=4)))

for i, c in enumerate(member_colors):
    x0 = 470 + 11 * i
    shapes.append(dict(type='rect', xref='paper', yref='paper', x0=px(x0), x1=px(x0 + 10),
                       y0=py(656), y1=py(649), fillcolor=c, line=dict(width=0)))
    text(x0 + 5, 643, '%02d' % (i + 1), 7.6, bold=True, anchor='center')

shapes.append(dict(type='rect', xref='paper', yref='paper', x0=px(20), x1=px(440),
                   y0=py(698), y1=py(667), line=dict(color='black', width=1.5)))

fig.update_layout(
    width=740, height=700,
    margin=dict(l=50, r=50, t=0, b=100),
    paper_bgcolor='white', plot_bgcolor='white',
    showlegend=False, hovermode=False,
    font=dict(family=MONO, size=11, color='black'),
    xaxis=dict(range=[0, 384], tickvals=[h + 4 for h in day_lines], ticktext=day_labels,
               tickangle=-90, showgrid=False, ticks='', zeroline=False,
               showline=True, linecolor='black', linewidth=1.5,
               tickfont=dict(family=MONO, size=10), ticklabelstandoff=2,
               minor=dict(tickvals=day_lines, showgrid=True, gridcolor='#c0c0c0',
                          gridwidth=1, ticks='')),
    yaxis=dict(range=y_range, tickvals=left_ticks, ticktext=[str(v) for v in left_ticks],
               showgrid=True, gridcolor='#c0c0c0', gridwidth=1, zeroline=False,
               showline=True, linecolor='black', linewidth=1.5, ticks='',
               tickfont=dict(family=MONO, size=11), ticklabelstandoff=18),
    yaxis2=dict(overlaying='y', side='right',
                range=[y_range[0] + rain_offset, y_range[1] + rain_offset],
                tickvals=right_ticks, ticktext=[str(v) for v in right_ticks],
                showgrid=False, zeroline=False, showline=True, linecolor='black',
                linewidth=1.5, ticks='', tickfont=dict(family=MONO, size=11),
                ticklabelstandoff=14),
    yaxis3=dict(overlaying='y', range=y_range, tickvals=thick_ticks, showticklabels=False,
                showgrid=True, gridcolor='#c0c0c0', gridwidth=2, zeroline=True,
                zerolinecolor='#a8a8a8', zerolinewidth=3, ticks='', showline=False),
    annotations=annotations,
    shapes=shapes,
)

# the page's default body margin would shift the 740x700 figure; remove it
fig.write_html("out.html", config={'displayModeBar': False, 'staticPlot': True},
               post_script="document.body.style.margin='0px';")
